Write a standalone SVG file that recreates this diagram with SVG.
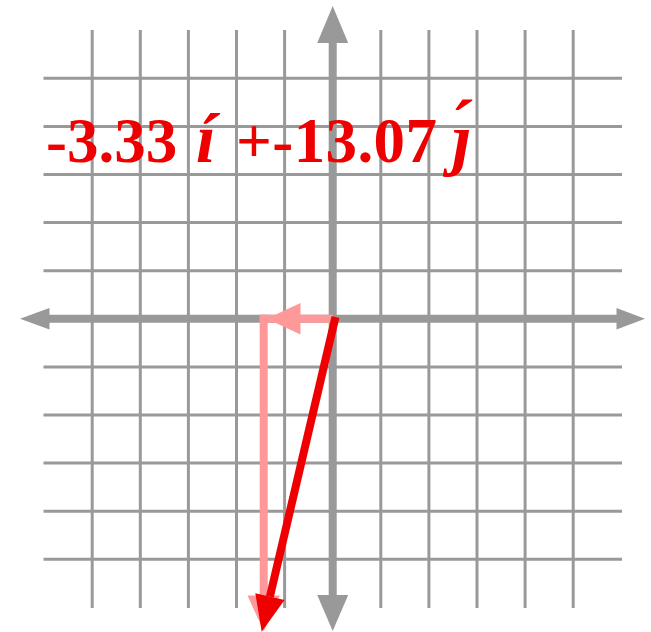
<svg xmlns="http://www.w3.org/2000/svg" width="651" height="632" viewBox="0 0 651 632">
<style>
.grid line{stroke:#999999;stroke-width:3}
.axis{stroke:#999999;stroke-width:8;fill:none}
.axhead{fill:#999999}
.comp{stroke:#ff9999;stroke-width:8;fill:none}
.comphead{fill:#ff9999}
.vec{stroke:#ee0000;stroke-width:8;fill:none}
.vechead{fill:#ee0000}
.lbl{font-family:"Liberation Serif","Times New Roman",serif;font-weight:bold;font-size:63px;fill:#ee0000}
.it{font-style:italic;font-size:70px}
</style>
<rect width="651" height="632" fill="#ffffff"/>
<g id="grid" class="grid">
<line x1="92.2" y1="30" x2="92.2" y2="608"/>
<line x1="140.3" y1="30" x2="140.3" y2="608"/>
<line x1="188.4" y1="30" x2="188.4" y2="608"/>
<line x1="236.5" y1="30" x2="236.5" y2="608"/>
<line x1="284.6" y1="30" x2="284.6" y2="608"/>
<line x1="380.8" y1="30" x2="380.8" y2="608"/>
<line x1="428.9" y1="30" x2="428.9" y2="608"/>
<line x1="477" y1="30" x2="477" y2="608"/>
<line x1="525.1" y1="30" x2="525.1" y2="608"/>
<line x1="573.2" y1="30" x2="573.2" y2="608"/>
<line x1="43.5" y1="78.3" x2="622" y2="78.3"/>
<line x1="43.5" y1="126.4" x2="622" y2="126.4"/>
<line x1="43.5" y1="174.5" x2="622" y2="174.5"/>
<line x1="43.5" y1="222.6" x2="622" y2="222.6"/>
<line x1="43.5" y1="270.7" x2="622" y2="270.7"/>
<line x1="43.5" y1="366.9" x2="622" y2="366.9"/>
<line x1="43.5" y1="415" x2="622" y2="415"/>
<line x1="43.5" y1="463.1" x2="622" y2="463.1"/>
<line x1="43.5" y1="511.2" x2="622" y2="511.2"/>
<line x1="43.5" y1="559.3" x2="622" y2="559.3"/>
</g>
<g id="x-axis">
<line class="axis" x1="48" y1="318.8" x2="618" y2="318.8"/>
<polygon class="axhead" points="645,318.8 616.5,308 616.5,329.6"/>
<polygon class="axhead" points="20,318.8 49.5,308 49.5,329.6"/>
</g>
<g id="y-axis">
<line class="axis" x1="332.7" y1="42" x2="332.7" y2="596"/>
<polygon class="axhead" points="332.7,6 317.2,43 348.2,43"/>
<polygon class="axhead" points="332.7,631 317.2,595 348.2,595"/>
</g>
<g id="label">
<text class="lbl" y="161.5"><tspan x="46">-3.33</tspan><tspan class="it" x="196">í</tspan><tspan x="236" textLength="201" lengthAdjust="spacing">+-13.07</tspan><tspan class="it" x="452" font-size="76">ȷ́</tspan></text>
</g>
<g id="connectors">
<g id="x-component">
<line class="comp" x1="259.7" y1="318.8" x2="333" y2="318.8"/>
<polygon class="comphead" points="266.7,318.8 300.5,303 300.5,334.6"/>
</g>
<g id="y-component">
<line class="comp" x1="263.7" y1="314.8" x2="263.7" y2="597"/>
<polygon class="comphead" points="263.7,631 247.5,595.5 279.9,595.5"/>
</g>
<g id="vector">
<line class="vec" x1="335.5" y1="317" x2="269.9" y2="596.6"/>
<polygon class="vechead" points="261.7,631.7 284.5,600.1 255.3,593.2"/>
</g>
</g>
</svg>
